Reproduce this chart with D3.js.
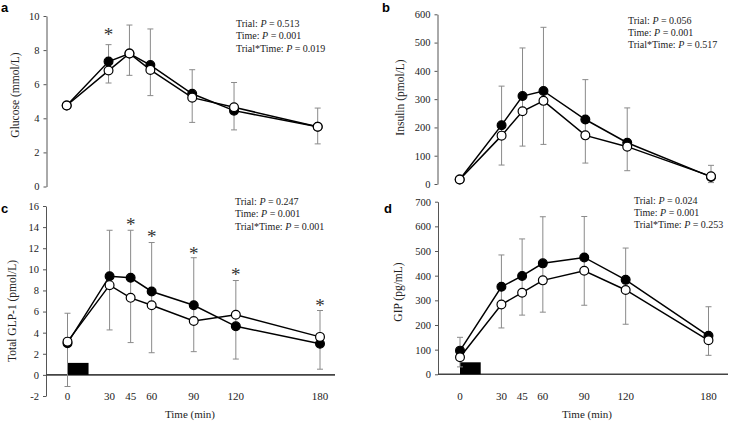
<!DOCTYPE html>
<html>
<head>
<meta charset="utf-8">
<title>Glucose, insulin, GLP-1 and GIP responses</title>
<script src="https://d3js.org/d3.v7.min.js"></script>
<style>body { margin: 0; background: #fff; }</style>
</head>
<body>
<script>
// sampling times (min)
var times = [0, 30, 45, 60, 90, 120, 180];
var timeLabels = ["0", "30", "45", "60", "90", "120", "180"];

// a - glucose (mmol/L)
var gluFilled = [4.75, 7.33, 7.8, 7.12, 5.44, 4.45, 3.5];
var gluOpen   = [4.75, 6.8, 7.8, 6.84, 5.21, 4.65, 3.5];
var gluHigh   = [4.95, 8.32, 9.47, 9.24, 6.85, 6.1, 4.6];
var gluLow    = [4.6, 6.07, 6.52, 5.33, 3.76, 3.32, 2.5];
var gluStars  = [[30, 9.08]];
var gluTicks  = [0, 2, 4, 6, 8, 10];

// b - insulin (pmol/L)
var insFilled = [16, 208, 311, 329, 228, 146, 25];
var insOpen   = [16, 171, 257, 294, 172, 132, 27];
var insHigh   = [20, 346, 481, 554, 369, 269, 66];
var insLow    = [10, 67, 134, 140, 74, 47, 5];
var insStars  = [];
var insTicks  = [0, 100, 200, 300, 400, 500, 600];

// c - total GLP-1 (pmol/L)
var glpFilled = [3.0, 9.35, 9.2, 7.9, 6.6, 4.6, 2.95];
var glpOpen   = [3.15, 8.5, 7.3, 6.6, 5.1, 5.7, 3.6];
var glpHigh   = [5.84, 13.7, 13.7, 12.54, 11.1, 8.94, 6.1];
var glpLow    = [-1.1, 4.26, 3.06, 2.1, 2.2, 1.5, 0.54];
var glpStars  = [[45, 14.5], [60, 13.3], [90, 11.75], [120, 9.7], [180, 6.8]];
var glpTicks  = [-2, 0, 2, 4, 6, 8, 10, 12, 14, 16];

// d - GIP (pg/mL)
var gipFilled = [96, 355, 399, 450, 474, 383, 156];
var gipOpen   = [69, 283, 331, 381, 420, 342, 138];
var gipHigh   = [150, 484, 549, 639, 640, 512, 274];
var gipLow    = [30, 188, 240, 252, 280, 203, 77];
var gipStars  = [];
var gipTicks  = [0, 100, 200, 300, 400, 500, 600, 700];

var serif = "'Liberation Serif', 'Times New Roman', serif";
var sans = "'Liberation Sans', Arial, sans-serif";

var svg = d3.select("body")
    .append("svg")
    .attr("width", 729)
    .attr("height", 421)
    .style("font-family", serif);

function drawPanel(p) {
    var x = d3.scaleLinear().domain([0, 180]).range([p.x0, p.x1]);
    var y = d3.scaleLinear().domain([p.ticks[0], p.ticks[p.ticks.length - 1]]).range([p.yBottom, p.yTop]);
    var g = svg.append("g");

    // y axis
    var ax = g.append("g")
        .attr("transform", "translate(" + p.axisX + ",0)")
        .call(d3.axisLeft(y).tickValues(p.ticks).tickFormat(function(d) { return String(d); })
            .tickSize(3).tickSizeOuter(0).tickPadding(4));
    ax.attr("font-family", serif).attr("font-size", 10.5);
    ax.select(".domain").attr("stroke", "#555");
    ax.selectAll(".tick line").attr("stroke", "#555");
    ax.selectAll(".tick text").attr("fill", "#222");

    // x axis line (zero line) and time labels
    if (p.xAxis) {
        g.append("line")
            .attr("x1", p.axisX).attr("x2", p.xLineEnd)
            .attr("y1", y(0)).attr("y2", y(0))
            .attr("stroke", "#444").attr("stroke-width", 1.6);
        g.selectAll(".tlab")
            .data(times)
            .join("text")
            .attr("x", function(d) { return x(d); })
            .attr("y", p.labelY)
            .attr("dy", "0.35em")
            .attr("text-anchor", "middle")
            .style("font-size", "11px")
            .attr("fill", "#222")
            .text(function(d, i) { return timeLabels[i]; });
        g.append("text")
            .attr("x", p.timeTitleX)
            .attr("y", 418)
            .attr("text-anchor", "middle")
            .style("font-size", "11px")
            .attr("fill", "#222")
            .text("Time (min)");
    }

    // meal bar (0-15 min)
    if (p.meal) {
        g.append("rect")
            .attr("x", x(0))
            .attr("width", x(15) - x(0))
            .attr("y", y(0) - 12)
            .attr("height", 12)
            .attr("fill", "#000");
    }

    // error bars
    var eb = g.append("g").attr("stroke", "#8a8a8a").attr("stroke-width", 1);
    times.forEach(function(t, i) {
        var cx = x(t);
        eb.append("line").attr("x1", cx).attr("x2", cx).attr("y1", y(p.high[i])).attr("y2", y(p.low[i]));
        eb.append("line").attr("x1", cx - 3).attr("x2", cx + 3).attr("y1", y(p.high[i])).attr("y2", y(p.high[i]));
        eb.append("line").attr("x1", cx - 3).attr("x2", cx + 3).attr("y1", y(p.low[i])).attr("y2", y(p.low[i]));
    });

    var line = d3.line()
        .x(function(d, i) { return x(times[i]); })
        .y(function(d) { return y(d); });

    [[p.filled, "#000"], [p.open, "#fff"]].forEach(function(s) {
        g.append("path")
            .datum(s[0])
            .attr("d", line)
            .attr("fill", "none")
            .attr("stroke", "#000")
            .attr("stroke-width", 1.5);
        g.selectAll(null)
            .data(s[0])
            .join("circle")
            .attr("cx", function(d, i) { return x(times[i]); })
            .attr("cy", function(d) { return y(d); })
            .attr("r", 4.4)
            .attr("fill", s[1])
            .attr("stroke", "#000")
            .attr("stroke-width", 1.2);
    });

    // significance marks
    g.selectAll(".star")
        .data(p.stars)
        .join("text")
        .attr("x", function(d) { return x(d[0]); })
        .attr("y", function(d) { return y(d[1]); })
        .attr("dy", "0.47em")
        .attr("text-anchor", "middle")
        .style("font-size", "19px")
        .attr("fill", "#333")
        .text("*");

    // statistics
    p.stats.forEach(function(s, i) {
        var t = g.append("text")
            .attr("x", p.statX)
            .attr("y", p.statY + i * 12.3)
            .style("font-size", "10px")
            .attr("fill", "#222");
        t.append("tspan").text(s[0] + ": ");
        t.append("tspan").style("font-style", "italic").text("P");
        t.append("tspan").text(" = " + s[1]);
    });

    // y title
    g.append("text")
        .attr("transform", "translate(" + p.titleX + "," + p.titleY + ") rotate(-90)")
        .attr("text-anchor", "middle")
        .attr("dy", "0.35em")
        .style("font-size", "11.5px")
        .attr("fill", "#222")
        .text(p.title);

    // panel letter
    g.append("text")
        .attr("x", p.letterX)
        .attr("y", p.letterY)
        .style("font-family", sans)
        .style("font-weight", "bold")
        .style("font-size", "13px")
        .text(p.letter);
}

drawPanel({
    letter: "a", letterX: 1, letterY: 12,
    title: "Glucose (mmol/L)", titleX: 15, titleY: 95,
    x0: 66.7, x1: 317.7, axisX: 46.5, yBottom: 186.5, yTop: 16,
    ticks: gluTicks, filled: gluFilled, open: gluOpen, high: gluHigh, low: gluLow, stars: gluStars,
    statX: 236, statY: 27,
    stats: [["Trial", "0.513"], ["Time", "0.001"], ["Trial*Time", "0.019"]]
});

drawPanel({
    letter: "b", letterX: 382, letterY: 12,
    title: "Insulin (pmol/L)", titleX: 400, titleY: 97.5,
    x0: 459.7, x1: 711, axisX: 437.5, yBottom: 184, yTop: 14.3,
    ticks: insTicks, filled: insFilled, open: insOpen, high: insHigh, low: insLow, stars: insStars,
    statX: 628, statY: 23.5,
    stats: [["Trial", "0.056"], ["Time", "0.001"], ["Trial*Time", "0.517"]]
});

drawPanel({
    letter: "c", letterX: 1, letterY: 213,
    title: "Total GLP-1 (pmol/L)", titleX: 12, titleY: 311,
    x0: 67.5, x1: 320, axisX: 46, yBottom: 396, yTop: 206,
    ticks: glpTicks, filled: glpFilled, open: glpOpen, high: glpHigh, low: glpLow, stars: glpStars,
    xAxis: true, xLineEnd: 335, labelY: 396, timeTitleX: 190, meal: true,
    statX: 235, statY: 205,
    stats: [["Trial", "0.247"], ["Time", "0.001"], ["Trial*Time", "0.001"]]
});

drawPanel({
    letter: "d", letterX: 384, letterY: 213,
    title: "GIP (pg/mL)", titleX: 398, titleY: 292,
    x0: 460, x1: 708.5, axisX: 438, yBottom: 374.3, yTop: 201.7,
    ticks: gipTicks, filled: gipFilled, open: gipOpen, high: gipHigh, low: gipLow, stars: gipStars,
    xAxis: true, xLineEnd: 728, labelY: 396, timeTitleX: 587, meal: true,
    statX: 634, statY: 203.5,
    stats: [["Trial", "0.024"], ["Time", "0.001"], ["Trial*Time", "0.253"]]
});
</script>
</body>
</html>
